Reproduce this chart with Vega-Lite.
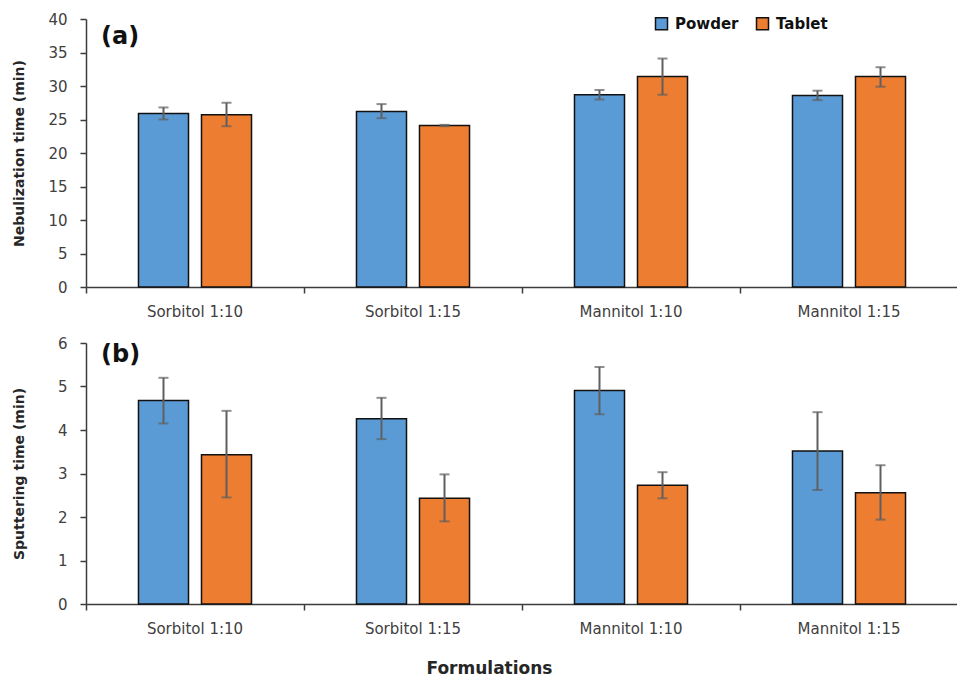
{
  "$schema": "https://vega.github.io/schema/vega-lite/v6.json",
  "padding": {"left": 11, "top": 12, "right": 0, "bottom": 0},
  "background": "white",
  "config": {
    "font": "DejaVu Sans",
    "view": {"stroke": null},
    "axis": {
      "grid": false,
      "domainColor": "#3c3c3c",
      "tickColor": "#3c3c3c",
      "domainWidth": 1.5,
      "tickWidth": 1.5,
      "labelColor": "#404040",
      "labelFontSize": 15,
      "labelFont": "DejaVu Sans",
      "titleColor": "#262626",
      "titleFontSize": 14,
      "titleFontWeight": "bold",
      "titleFont": "DejaVu Sans",
      "labelOverlap": false
    }
  },
  "datasets": {
    "neb": [
      {"formulation": "Sorbitol 1:10", "form": "Powder", "mean": 25.9, "lo": 25.0, "hi": 26.8},
      {"formulation": "Sorbitol 1:10", "form": "Tablet", "mean": 25.7, "lo": 24.0, "hi": 27.5},
      {"formulation": "Sorbitol 1:15", "form": "Powder", "mean": 26.2, "lo": 25.2, "hi": 27.3},
      {"formulation": "Sorbitol 1:15", "form": "Tablet", "mean": 24.1, "lo": 24.0, "hi": 24.2},
      {"formulation": "Mannitol 1:10", "form": "Powder", "mean": 28.7, "lo": 28.0, "hi": 29.4},
      {"formulation": "Mannitol 1:10", "form": "Tablet", "mean": 31.4, "lo": 28.7, "hi": 34.1},
      {"formulation": "Mannitol 1:15", "form": "Powder", "mean": 28.6, "lo": 27.9, "hi": 29.3},
      {"formulation": "Mannitol 1:15", "form": "Tablet", "mean": 31.4, "lo": 29.9, "hi": 32.8}
    ],
    "sput": [
      {"formulation": "Sorbitol 1:10", "form": "Powder", "mean": 4.68, "lo": 4.15, "hi": 5.2},
      {"formulation": "Sorbitol 1:10", "form": "Tablet", "mean": 3.43, "lo": 2.45, "hi": 4.44},
      {"formulation": "Sorbitol 1:15", "form": "Powder", "mean": 4.26, "lo": 3.79, "hi": 4.74},
      {"formulation": "Sorbitol 1:15", "form": "Tablet", "mean": 2.43, "lo": 1.9, "hi": 2.98},
      {"formulation": "Mannitol 1:10", "form": "Powder", "mean": 4.91, "lo": 4.36, "hi": 5.45},
      {"formulation": "Mannitol 1:10", "form": "Tablet", "mean": 2.73, "lo": 2.43, "hi": 3.03},
      {"formulation": "Mannitol 1:15", "form": "Powder", "mean": 3.52, "lo": 2.62, "hi": 4.41},
      {"formulation": "Mannitol 1:15", "form": "Tablet", "mean": 2.56, "lo": 1.94, "hi": 3.19}
    ]
  },
  "spacing": 17,
  "resolve": {"legend": {"color": "independent"}},
  "vconcat": [
    {
      "width": 872,
      "height": 268,
      "data": {"name": "neb"},
      "resolve": {"axis": {"x": "independent"}},
      "layer": [
        {
          "mark": {"type": "bar", "stroke": "#111111", "strokeWidth": 1.5},
          "encoding": {
            "x": {"field": "formulation", "type": "nominal", "sort": ["Sorbitol 1:10", "Sorbitol 1:15", "Mannitol 1:10", "Mannitol 1:15"],
                  "scale": {"paddingInner": 0, "paddingOuter": 0},
                  "axis": {"orient": "bottom", "title": null, "labelAngle": 0, "ticks": false, "tickSize": 0, "domain": false, "labelPadding": 17, "labelBaseline": "top"}},
            "xOffset": {"field": "form", "type": "nominal", "sort": ["Powder", "Tablet"], "scale": {"paddingInner": 0.206, "paddingOuter": 0.833}},
            "y": {"field": "mean", "type": "quantitative", "scale": {"domain": [0, 40], "nice": false},
                  "axis": {"values": [0, 5, 10, 15, 20, 25, 30, 35, 40], "title": "Nebulization time (min)", "tickSize": 6, "labelPadding": 13,
                           "titleX": -67, "titleY": 134, "titleBaseline": "middle", "titleAlign": "center", "titleAngle": -90}},
            "color": {"field": "form", "type": "nominal", "scale": {"domain": ["Powder", "Tablet"], "range": ["#5B9BD5", "#ED7D31"]},
                      "legend": {"title": null, "orient": "none", "legendX": 568, "legendY": -3, "direction": "horizontal",
                                 "symbolType": "square", "symbolSize": 144, "symbolStrokeColor": "#111111", "symbolStrokeWidth": 1.5,
                                 "labelFontSize": 15, "labelFontWeight": "bold", "labelColor": "#111111", "labelFont": "DejaVu Sans",
                                 "labelOffset": 6, "columnPadding": 14}}
          }
        },
        {
          "mark": {"type": "rule", "color": "#5f5f5f", "strokeWidth": 2},
          "encoding": {
            "x": {"field": "formulation", "type": "nominal", "sort": ["Sorbitol 1:10", "Sorbitol 1:15", "Mannitol 1:10", "Mannitol 1:15"],
                  "axis": {"orient": "bottom", "title": null, "labels": false, "bandPosition": 0, "tickSize": 6, "domain": true}},
            "xOffset": {"field": "form", "type": "nominal", "sort": ["Powder", "Tablet"]},
            "y": {"field": "lo", "type": "quantitative",
                  "axis": {"values": [0, 5, 10, 15, 20, 25, 30, 35, 40], "title": "Nebulization time (min)", "tickSize": 6, "labelPadding": 13,
                           "titleX": -67, "titleY": 134, "titleBaseline": "middle", "titleAlign": "center", "titleAngle": -90}},
            "y2": {"field": "hi"}
          }
        },
        {
          "mark": {"type": "tick", "color": "#5f5f5f", "thickness": 2, "size": 10},
          "encoding": {
            "x": {"field": "formulation", "type": "nominal", "sort": ["Sorbitol 1:10", "Sorbitol 1:15", "Mannitol 1:10", "Mannitol 1:15"], "axis": null},
            "xOffset": {"field": "form", "type": "nominal", "sort": ["Powder", "Tablet"]},
            "y": {"field": "lo", "type": "quantitative",
                  "axis": {"values": [0, 5, 10, 15, 20, 25, 30, 35, 40], "title": "Nebulization time (min)", "tickSize": 6, "labelPadding": 13,
                           "titleX": -67, "titleY": 134, "titleBaseline": "middle", "titleAlign": "center", "titleAngle": -90}}
          }
        },
        {
          "mark": {"type": "tick", "color": "#5f5f5f", "thickness": 2, "size": 10},
          "encoding": {
            "x": {"field": "formulation", "type": "nominal", "sort": ["Sorbitol 1:10", "Sorbitol 1:15", "Mannitol 1:10", "Mannitol 1:15"], "axis": null},
            "xOffset": {"field": "form", "type": "nominal", "sort": ["Powder", "Tablet"]},
            "y": {"field": "hi", "type": "quantitative",
                  "axis": {"values": [0, 5, 10, 15, 20, 25, 30, 35, 40], "title": "Nebulization time (min)", "tickSize": 6, "labelPadding": 13,
                           "titleX": -67, "titleY": 134, "titleBaseline": "middle", "titleAlign": "center", "titleAngle": -90}}
          }
        },
        {
          "data": {"values": [{"panel": "(a)"}]},
          "mark": {"type": "text", "align": "left", "baseline": "middle", "dx": 15, "fontSize": 24, "fontWeight": "bold", "color": "#111111"},
          "encoding": {
            "x": {"datum": "Sorbitol 1:10", "bandPosition": 0, "axis": null},
            "y": {"datum": 37.3, "type": "quantitative",
                  "axis": {"values": [0, 5, 10, 15, 20, 25, 30, 35, 40], "title": "Nebulization time (min)", "tickSize": 6, "labelPadding": 13,
                           "titleX": -67, "titleY": 134, "titleBaseline": "middle", "titleAlign": "center", "titleAngle": -90}},
            "text": {"field": "panel"}
          }
        }
      ]
    },
    {
      "width": 872,
      "height": 261,
      "data": {"name": "sput"},
      "resolve": {"axis": {"x": "independent"}},
      "layer": [
        {
          "mark": {"type": "bar", "stroke": "#111111", "strokeWidth": 1.5},
          "encoding": {
            "x": {"field": "formulation", "type": "nominal", "sort": ["Sorbitol 1:10", "Sorbitol 1:15", "Mannitol 1:10", "Mannitol 1:15"],
                  "scale": {"paddingInner": 0, "paddingOuter": 0},
                  "axis": {"orient": "bottom", "title": "Formulations", "titleFontSize": 17, "titleX": 403, "titleY": 64, "titleBaseline": "middle", "titleAlign": "center",
                           "labelAngle": 0, "ticks": false, "tickSize": 0, "domain": false, "labelPadding": 17, "labelBaseline": "top"}},
            "xOffset": {"field": "form", "type": "nominal", "sort": ["Powder", "Tablet"], "scale": {"paddingInner": 0.206, "paddingOuter": 0.833}},
            "y": {"field": "mean", "type": "quantitative", "scale": {"domain": [0, 6], "nice": false},
                  "axis": {"values": [0, 1, 2, 3, 4, 5, 6], "title": "Sputtering time (min)", "tickSize": 6, "labelPadding": 13,
                           "titleX": -67, "titleY": 130.5, "titleBaseline": "middle", "titleAlign": "center", "titleAngle": -90}},
            "color": {"field": "form", "type": "nominal", "scale": {"domain": ["Powder", "Tablet"], "range": ["#5B9BD5", "#ED7D31"]}, "legend": null}
          }
        },
        {
          "mark": {"type": "rule", "color": "#5f5f5f", "strokeWidth": 2},
          "encoding": {
            "x": {"field": "formulation", "type": "nominal", "sort": ["Sorbitol 1:10", "Sorbitol 1:15", "Mannitol 1:10", "Mannitol 1:15"],
                  "axis": {"orient": "bottom", "title": null, "labels": false, "bandPosition": 0, "tickSize": 6, "domain": true}},
            "xOffset": {"field": "form", "type": "nominal", "sort": ["Powder", "Tablet"]},
            "y": {"field": "lo", "type": "quantitative",
                  "axis": {"values": [0, 1, 2, 3, 4, 5, 6], "title": "Sputtering time (min)", "tickSize": 6, "labelPadding": 13,
                           "titleX": -67, "titleY": 130.5, "titleBaseline": "middle", "titleAlign": "center", "titleAngle": -90}},
            "y2": {"field": "hi"}
          }
        },
        {
          "mark": {"type": "tick", "color": "#5f5f5f", "thickness": 2, "size": 10},
          "encoding": {
            "x": {"field": "formulation", "type": "nominal", "sort": ["Sorbitol 1:10", "Sorbitol 1:15", "Mannitol 1:10", "Mannitol 1:15"], "axis": null},
            "xOffset": {"field": "form", "type": "nominal", "sort": ["Powder", "Tablet"]},
            "y": {"field": "lo", "type": "quantitative",
                  "axis": {"values": [0, 1, 2, 3, 4, 5, 6], "title": "Sputtering time (min)", "tickSize": 6, "labelPadding": 13,
                           "titleX": -67, "titleY": 130.5, "titleBaseline": "middle", "titleAlign": "center", "titleAngle": -90}}
          }
        },
        {
          "mark": {"type": "tick", "color": "#5f5f5f", "thickness": 2, "size": 10},
          "encoding": {
            "x": {"field": "formulation", "type": "nominal", "sort": ["Sorbitol 1:10", "Sorbitol 1:15", "Mannitol 1:10", "Mannitol 1:15"], "axis": null},
            "xOffset": {"field": "form", "type": "nominal", "sort": ["Powder", "Tablet"]},
            "y": {"field": "hi", "type": "quantitative",
                  "axis": {"values": [0, 1, 2, 3, 4, 5, 6], "title": "Sputtering time (min)", "tickSize": 6, "labelPadding": 13,
                           "titleX": -67, "titleY": 130.5, "titleBaseline": "middle", "titleAlign": "center", "titleAngle": -90}}
          }
        },
        {
          "data": {"values": [{"panel": "(b)"}]},
          "mark": {"type": "text", "align": "left", "baseline": "middle", "dx": 15, "fontSize": 24, "fontWeight": "bold", "color": "#111111"},
          "encoding": {
            "x": {"datum": "Sorbitol 1:10", "bandPosition": 0, "axis": null},
            "y": {"datum": 5.72, "type": "quantitative",
                  "axis": {"values": [0, 1, 2, 3, 4, 5, 6], "title": "Sputtering time (min)", "tickSize": 6, "labelPadding": 13,
                           "titleX": -67, "titleY": 130.5, "titleBaseline": "middle", "titleAlign": "center", "titleAngle": -90}},
            "text": {"field": "panel"}
          }
        }
      ]
    }
  ]
}
